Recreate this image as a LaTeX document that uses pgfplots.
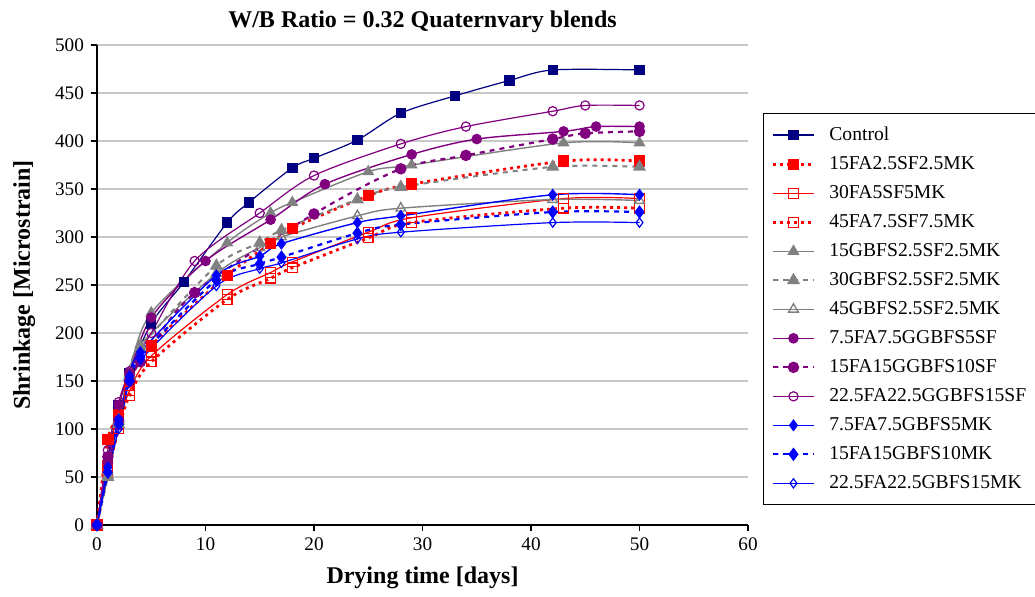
\documentclass[border=0pt]{standalone}
\usepackage{pgfplots}
\pgfplotsset{compat=1.18}
\usepackage{fontspec}
\setmainfont{Liberation Serif}
\definecolor{cnavy}{RGB}{0,0,128}
\definecolor{cred}{RGB}{255,0,0}
\definecolor{cgray}{RGB}{128,128,128}
\definecolor{cpurp}{RGB}{128,0,128}
\definecolor{cblue}{RGB}{0,0,255}
\definecolor{cgrid}{RGB}{200,200,200}
\begin{document}
\begin{tikzpicture}
\begin{axis}[
  name=ax,
  scale only axis, width=325.5pt, height=240pt,
  xmin=0, xmax=60, ymin=0, ymax=500,
  xtick={0,10,...,60}, ytick={0,50,...,500},
  axis x line*=bottom, axis y line*=left,
  axis line style={-, line width=0.8pt, black},
  tick align=outside, major tick length=3pt,
  tick style={black, line width=0.6pt},
  ymajorgrids, grid style={cgrid, line width=1pt},
  /pgf/number format/assume math mode=true,
  ticklabel style={font=\fontsize{9.6}{11}\selectfont},
  title={\textbf{W/B Ratio = 0.32 Quaternvary blends}},
  every axis title/.style={at={(axis description cs:0.5,1)}, anchor=base, yshift=8.5pt, font=\fontsize{12}{14}\selectfont},
  xlabel={\textbf{Drying time [days]}},
  xlabel style={font=\fontsize{12}{14}\selectfont, at={(axis description cs:0.5,-0.11)}, anchor=center},
  ylabel={\textbf{Shrinkage [Microstrain]}},
  ylabel style={font=\fontsize{12}{14}\selectfont, at={(axis description cs:-0.112,0.5)}, anchor=center},
  clip=false,
  legend style={at={(1.023,0.858)}, anchor=north west, draw=black, line width=0.6pt,
    font=\fontsize{9.8}{11}\selectfont, row sep=2.5pt, inner xsep=4pt, inner ysep=4.5pt,
    /tikz/every odd column/.append style={column sep=5pt}},
  legend cell align=left,
  legend image code/.code={\draw[mark repeat=2, mark phase=2, #1] plot coordinates {(0pt,0pt) (10.25pt,0pt) (20.5pt,0pt)};},
  every axis plot/.append style={smooth},
]
% Control
\addplot[cnavy, line width=0.6pt, mark=square*, mark size=2.3pt, mark options={solid}] coordinates {
(0,0)(1,70)(2,125)(3,158)(5,210)(8,253)(12,315)(14,336)(18,372)(20,382)(24,401)(28,429)(33,447)(38,463)(42,474)(50,474)};
\addlegendentry{Control}
% 15FA2.5SF2.5MK
\addplot[cred, line width=1.4pt, dash pattern=on 1.5pt off 2pt, mark=square*, mark size=2.6pt, mark options={solid, line width=0.5pt}] coordinates {
(0,0)(1,89)(2,115)(3,150)(5,187)(12,260)(16,293)(18,309)(25,343)(29,355)(43,379)(50,379)};
\addlegendentry{15FA2.5SF2.5MK}
% 30FA5SF5MK
\addplot[cred, line width=0.6pt, mark=square, mark size=2.4pt, mark options={solid, fill=white}] coordinates {
(0,0)(1,62)(2,105)(3,140)(5,176)(12,240)(16,263)(18,274)(25,305)(29,320)(43,340)(50,340)};
\addlegendentry{30FA5SF5MK}
% 45FA7.5SF7.5MK
\addplot[cred, line width=1.4pt, dash pattern=on 1.5pt off 2pt, mark=square, mark size=2.4pt, mark options={solid, fill=white, line width=0.6pt}] coordinates {
(0,0)(1,55)(2,100)(3,135)(5,170)(12,235)(16,257)(18,268)(25,299)(29,315)(43,330)(50,330)};
\addlegendentry{45FA7.5SF7.5MK}
% 15GBFS2.5SF2.5MK
\addplot[cgray, line width=0.7pt, mark=triangle*, mark size=2.8pt, mark options={solid}] coordinates {
(0,0)(1,52)(2,110)(3,160)(5,221)(12,294)(16,325)(18,336)(25,368)(29,375)(43,398)(50,398)};
\addlegendentry{15GBFS2.5SF2.5MK}
% 30GBFS2.5SF2.5MK
\addplot[cgray, line width=1pt, dash pattern=on 2.5pt off 2.5pt, mark=triangle*, mark size=2.8pt, mark options={solid}] coordinates {
(0,0)(1,50)(2,105)(3,155)(4,185)(11,270)(15,294)(17,307)(24,339)(28,352)(42,373)(50,373)};
\addlegendentry{30GBFS2.5SF2.5MK}
% 45GBFS2.5SF2.5MK
\addplot[cgray, line width=0.7pt, mark=triangle, mark size=2.8pt, mark options={solid, fill=white}] coordinates {
(0,0)(1,56)(2,108)(3,157)(4,188)(11,262)(15,289)(17,300)(24,322)(28,330)(42,339)(50,338)};
\addlegendentry{45GBFS2.5SF2.5MK}
% 7.5FA7.5GGBFS5SF
\addplot[cpurp, line width=0.7pt, mark=*, mark size=2.3pt, mark options={solid}] coordinates {
(0,0)(1,65)(2,125)(3,158)(5,216)(10,275)(16,318)(21,355)(29,386)(35,402)(43,410)(46,415)(50,415)};
\addlegendentry{7.5FA7.5GGBFS5SF}
% 15FA15GGBFS10SF
\addplot[cpurp, line width=1.1pt, dash pattern=on 2.5pt off 2.5pt, mark=*, mark size=2.3pt, mark options={solid}] coordinates {
(0,0)(1,71)(2,109)(3,150)(4,170)(9,242)(20,324)(28,371)(34,385)(42,402)(45,408)(50,410)};
\addlegendentry{15FA15GGBFS10SF}
% 22.5FA22.5GGBFS15SF
\addplot[cpurp, line width=0.6pt, mark=o, mark size=2.3pt, mark options={solid, fill=white}] coordinates {
(0,0)(1,78)(2,128)(3,160)(5,200)(9,275)(15,325)(20,364)(28,397)(34,415)(42,431)(45,437)(50,437)};
\addlegendentry{22.5FA22.5GGBFS15SF}
% 7.5FA7.5GBFS5MK
\addplot[cblue, line width=0.7pt, mark=diamond*, mark size=2.5pt, mark options={solid}] coordinates {
(0,0)(1,60)(2,110)(3,155)(4,180)(11,260)(15,280)(17,293)(24,315)(28,322)(42,344)(50,344)};
\addlegendentry{7.5FA7.5GBFS5MK}
% 15FA15GBFS10MK
\addplot[cblue, line width=1.1pt, dash pattern=on 2.5pt off 2.5pt, mark=diamond*, mark size=2.5pt, mark options={solid}] coordinates {
(0,0)(1,55)(2,105)(3,150)(4,175)(11,255)(15,272)(17,279)(24,304)(28,313)(42,326)(50,326)};
\addlegendentry{15FA15GBFS10MK}
% 22.5FA22.5GBFS15MK
\addplot[cblue, line width=0.6pt, mark=diamond, mark size=2.3pt, mark options={solid, fill=white}] coordinates {
(0,0)(1,55)(2,100)(3,150)(4,172)(11,249)(15,267)(17,273)(24,298)(28,305)(42,315)(50,315)};
\addlegendentry{22.5FA22.5GBFS15MK}
\end{axis}
\pgfresetboundingbox
\path[use as bounding box] ([xshift=-48.5pt,yshift=-36pt]ax.south west) rectangle ([xshift=143.5pt,yshift=22.5pt]ax.north east);
\end{tikzpicture}
\end{document}
